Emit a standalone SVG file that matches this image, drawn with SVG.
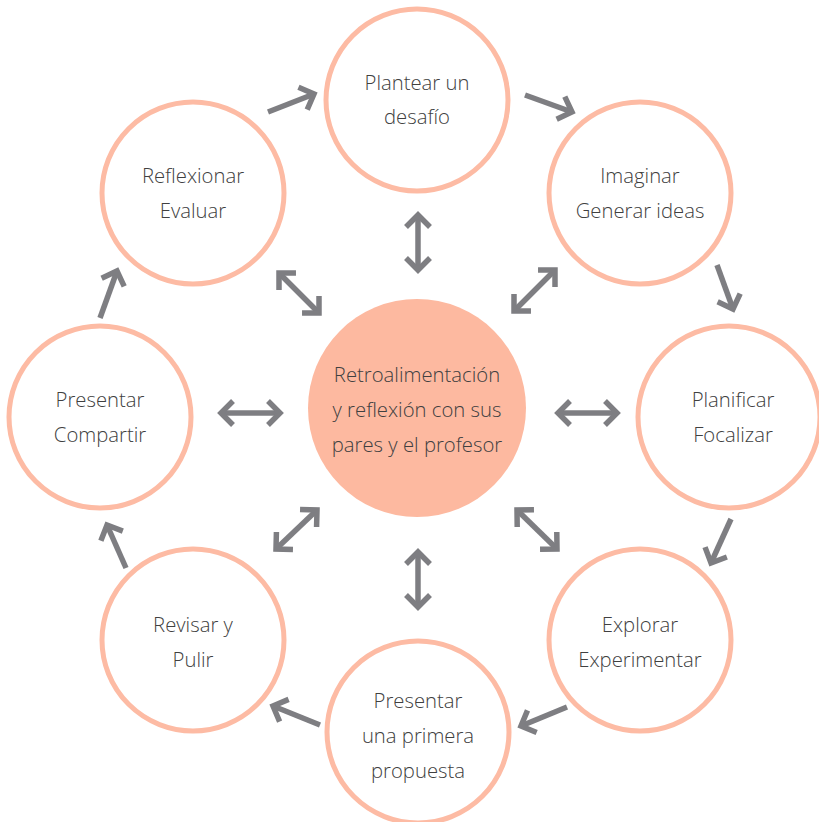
<svg xmlns="http://www.w3.org/2000/svg" width="819" height="822" viewBox="0 0 819 822">
<style>
.ring{fill:#fff;stroke:#FDBBA4;stroke-width:5}
.hub{fill:#FDB9A0;stroke:none}
.lbl{font-family:"Open Sans","Noto Sans","Liberation Sans",sans-serif;font-size:20.3px;font-weight:300;fill:#404040;text-anchor:middle}
.arr{fill:none;stroke:#7E7E82;stroke-width:5.5;marker-end:url(#head)}
.dbl{fill:none;stroke:#7E7E82;stroke-width:5.5;marker-start:url(#head);marker-end:url(#head)}
</style>
<defs>
<marker id="head" markerUnits="userSpaceOnUse" viewBox="-16 -16 24 32" refX="0" refY="0" markerWidth="24" markerHeight="32" orient="auto-start-reverse" overflow="visible">
<path d="M-12,-12 L0,0 L-12,12" fill="none" stroke="#7E7E82" stroke-width="5.5" stroke-linejoin="miter"/>
</marker>
</defs>
<rect width="819" height="822" fill="#fff"/>
<g id="connectors">
<path class="arr" d="M268,112 L314,94"/>
<path class="arr" d="M525,95 L572,112"/>
<path class="arr" d="M717,265 L733,309"/>
<path class="arr" d="M731,519 L711,563"/>
<path class="arr" d="M567,707 L521,726"/>
<path class="arr" d="M320,725 L273,706"/>
<path class="arr" d="M126,568 L107,525"/>
<path class="arr" d="M100,318 L117,271"/>
<path class="dbl" d="M418,215 L418,270"/>
<path class="dbl" d="M418,552 L418,607"/>
<path class="dbl" d="M221,413 L280,413"/>
<path class="dbl" d="M558,413 L617,413"/>
<path class="dbl" d="M279,273 L319,313"/>
<path class="dbl" d="M514,311 L555,270"/>
<path class="dbl" d="M276,549 L317,510"/>
<path class="dbl" d="M517,510 L557,549"/>
</g>
<g id="n-center"><circle class="hub" cx="417" cy="408" r="109"/>
<text class="lbl" x="417" y="382">Retroalimentación</text><text class="lbl" x="417" y="417">y reflexión con sus</text><text class="lbl" x="417" y="452">pares y el profesor</text></g>
<g id="n-plantear"><circle class="ring" cx="417" cy="100" r="91"/>
<text class="lbl" x="417" y="90">Plantear un</text><text class="lbl" x="417" y="124">desafío</text></g>
<g id="n-imaginar"><circle class="ring" cx="640" cy="193" r="91"/>
<text class="lbl" x="640" y="183">Imaginar</text><text class="lbl" x="640" y="218">Generar ideas</text></g>
<g id="n-planificar"><circle class="ring" cx="729" cy="417" r="91"/>
<text class="lbl" x="733" y="407">Planificar</text><text class="lbl" x="733" y="442">Focalizar</text></g>
<g id="n-explorar"><circle class="ring" cx="640" cy="640" r="91"/>
<text class="lbl" x="640" y="632">Explorar</text><text class="lbl" x="640" y="667">Experimentar</text></g>
<g id="n-propuesta"><circle class="ring" cx="418" cy="732" r="91"/>
<text class="lbl" x="418" y="708">Presentar</text><text class="lbl" x="418" y="743">una primera</text><text class="lbl" x="418" y="778">propuesta</text></g>
<g id="n-revisar"><circle class="ring" cx="193" cy="640" r="91"/>
<text class="lbl" x="193" y="632">Revisar y</text><text class="lbl" x="193" y="667">Pulir</text></g>
<g id="n-compartir"><circle class="ring" cx="100" cy="417" r="91"/>
<text class="lbl" x="100" y="407">Presentar</text><text class="lbl" x="100" y="442">Compartir</text></g>
<g id="n-reflexionar"><circle class="ring" cx="193" cy="193" r="91"/>
<text class="lbl" x="193" y="183">Reflexionar</text><text class="lbl" x="193" y="218">Evaluar</text></g>
</svg>
